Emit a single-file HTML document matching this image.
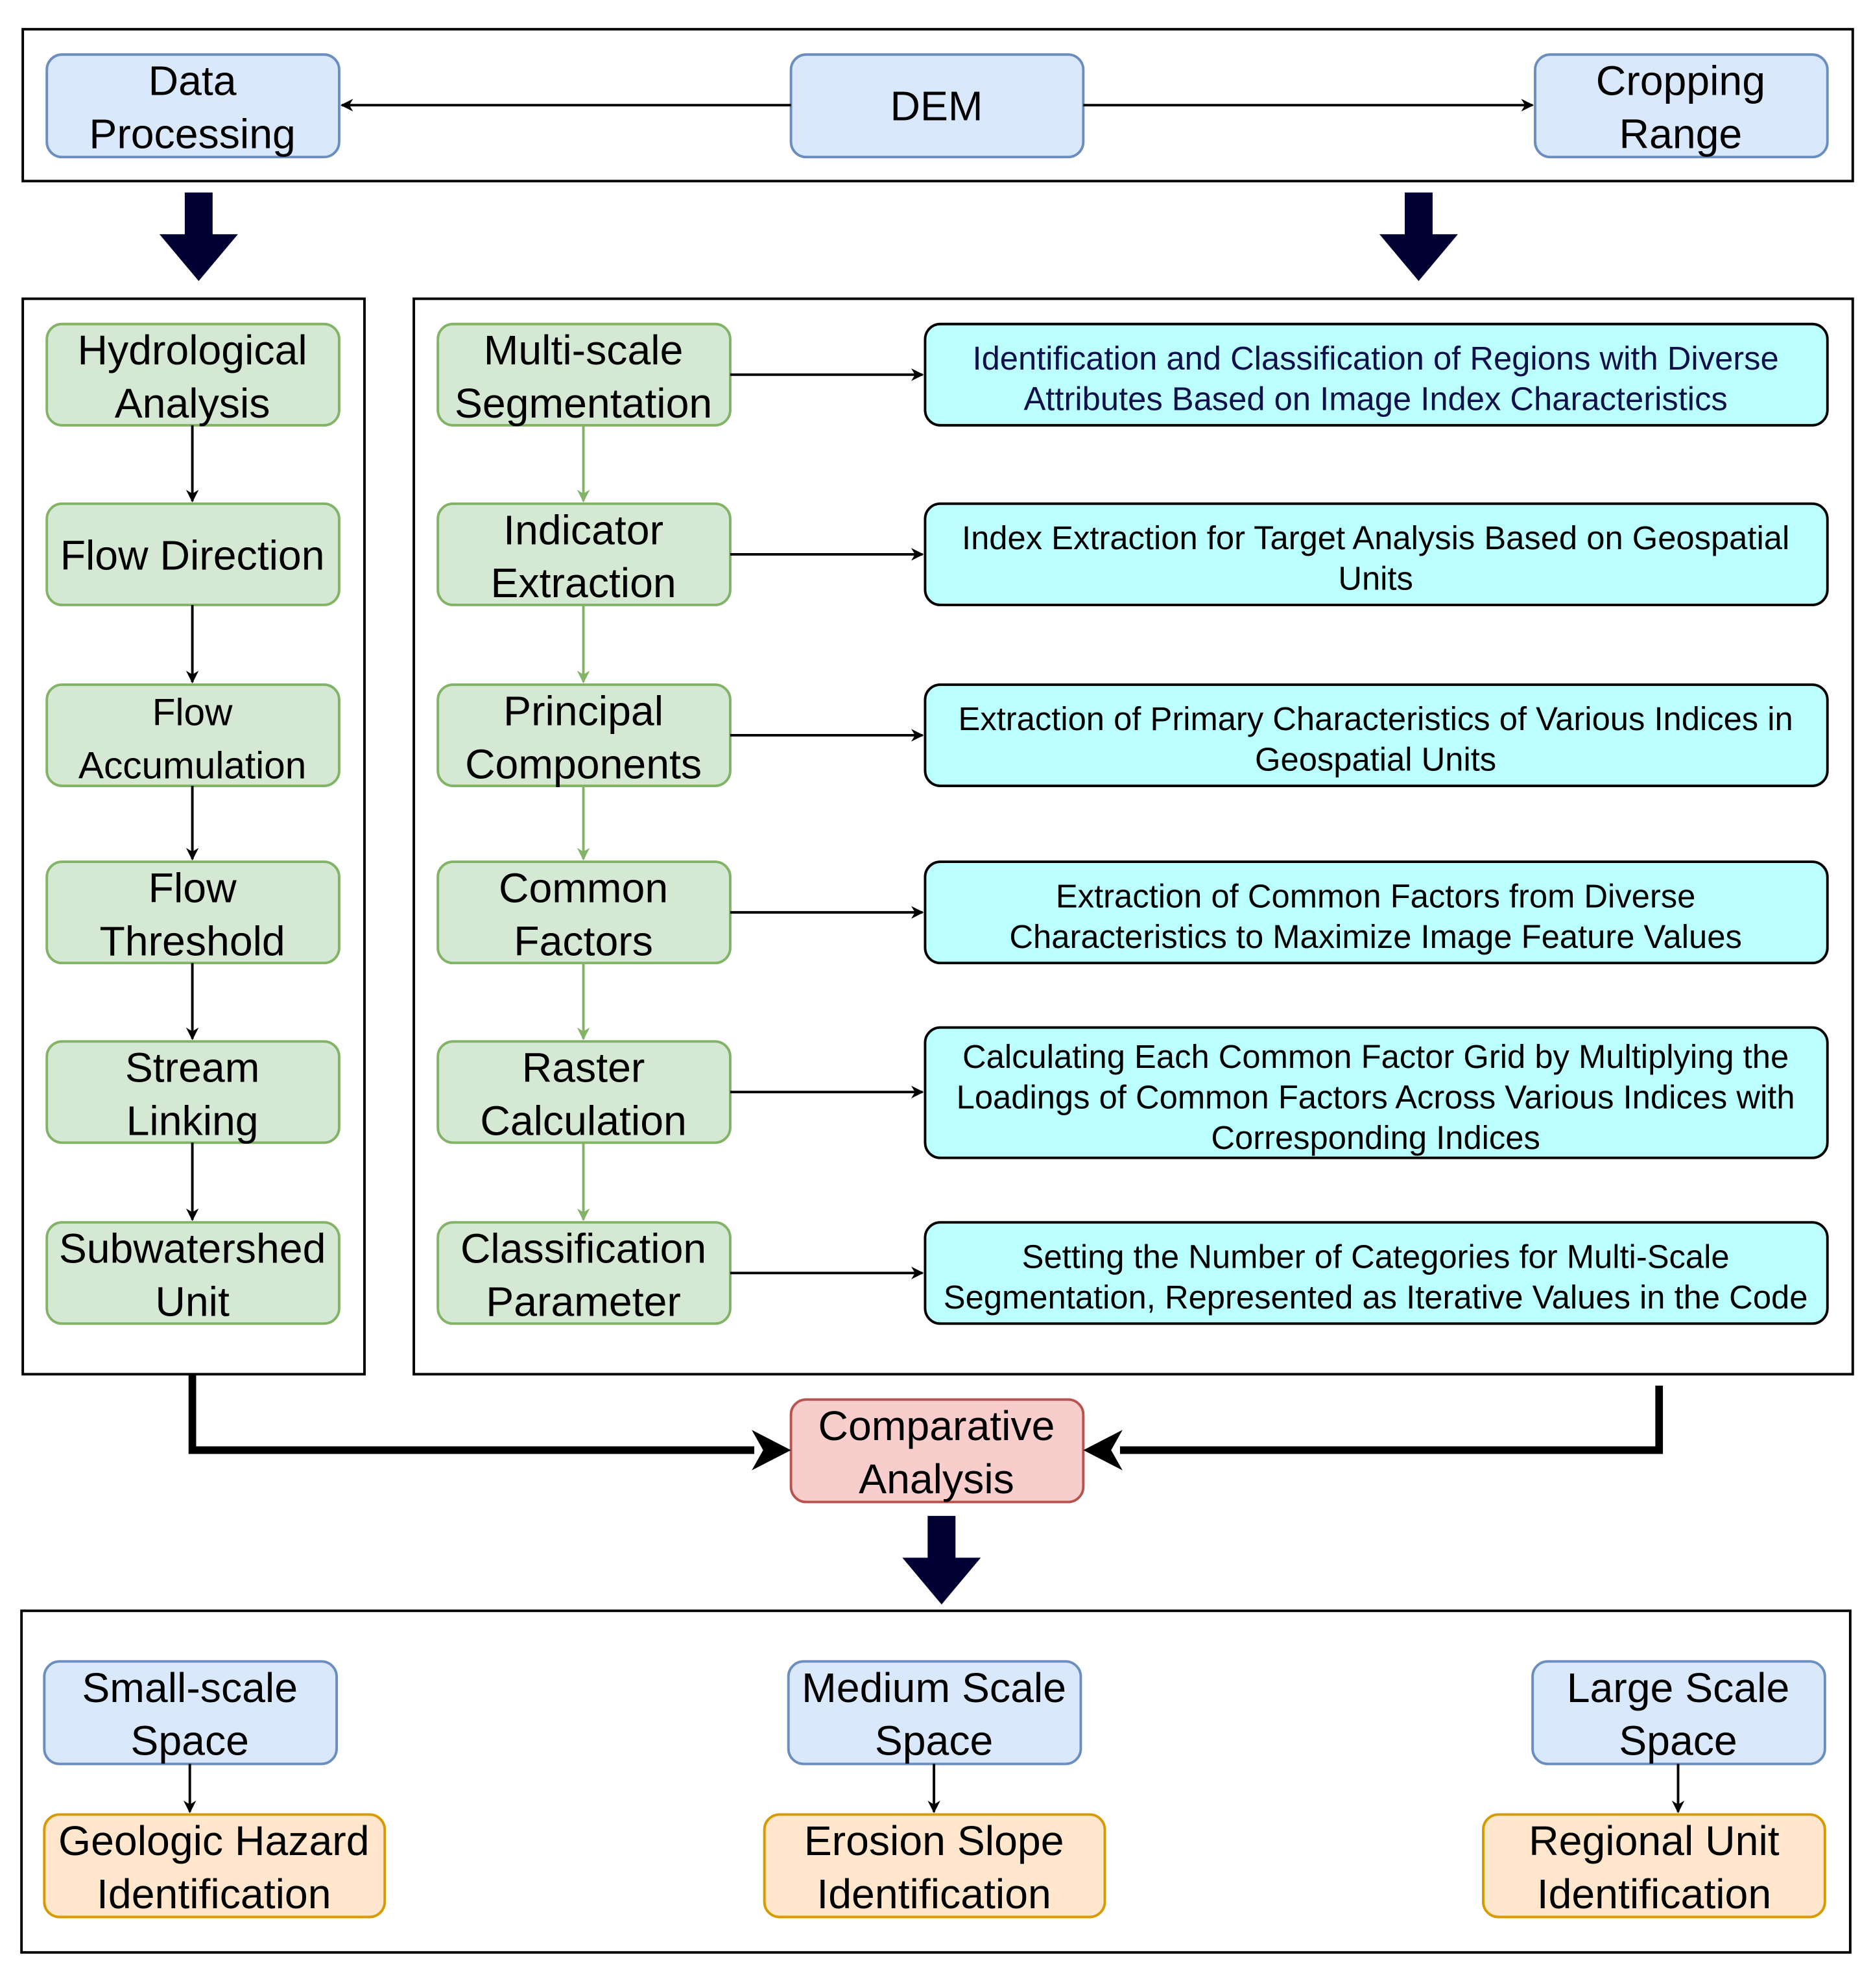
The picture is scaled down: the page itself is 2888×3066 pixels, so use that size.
<!DOCTYPE html>
<html><head><meta charset="utf-8">
<style>
html,body{margin:0;padding:0;background:#fff;}
svg{display:block;}
text{font-family:"Liberation Sans",Arial,sans-serif;text-anchor:middle;}
.g{font-size:33px;fill:#000;}
.c{font-size:26px;fill:#000;}
</style></head>
<body>
<svg width="2888" height="3066" viewBox="0 0 1480 1571" xmlns="http://www.w3.org/2000/svg">
<defs>
<marker id="a" markerWidth="10" markerHeight="10" refX="9" refY="5" orient="auto" markerUnits="userSpaceOnUse" viewBox="0 0 10 10">
<path d="M0,0 L10,5 L0,10 L3,5 z" fill="#000"/></marker>
<marker id="ag" markerWidth="10" markerHeight="10" refX="9" refY="5" orient="auto" markerUnits="userSpaceOnUse" viewBox="0 0 10 10">
<path d="M0,0 L10,5 L0,10 L3,5 z" fill="#82b366"/></marker>
</defs>
<rect width="1480" height="1571" fill="#fff"/>
<g fill="none" stroke="#000" stroke-width="2">
<rect x="18" y="23" width="1446" height="120"/>
<rect x="18" y="236" width="270" height="850"/>
<rect x="327" y="236" width="1137" height="850"/>
<rect x="17" y="1273" width="1445" height="270"/>
</g>
<g fill="#dae8fc" stroke="#6c8ebf" stroke-width="2">
<rect x="37" y="43" width="231" height="81" rx="12"/>
<rect x="625" y="43" width="231" height="81" rx="12"/>
<rect x="1213" y="43" width="231" height="81" rx="12"/>
</g>
<text class="g" x="152" y="75">Data</text><text class="g" x="152" y="117">Processing</text>
<text class="g" x="740" y="95">DEM</text>
<text class="g" x="1328" y="75">Cropping</text><text class="g" x="1328" y="117">Range</text>
<g stroke="#000" stroke-width="2" fill="none">
<line x1="625" y1="83" x2="270" y2="83" marker-end="url(#a)"/>
<line x1="856" y1="83" x2="1211" y2="83" marker-end="url(#a)"/>
</g>
<g fill="#000033">
<path d="M146,152 H168 V185 H188 L157,222 L126,185 H146 Z"/>
<path d="M1110,152 H1132 V185 H1152 L1121,222 L1090,185 H1110 Z"/>
<path d="M733,1198 H755 V1231 H775 L744,1268 L713,1231 H733 Z"/>
</g>
<g fill="#d5e8d4" stroke="#82b366" stroke-width="2">
<rect x="37" y="256" width="231" height="80" rx="12"/>
<rect x="37" y="398" width="231" height="80" rx="12"/>
<rect x="37" y="541" width="231" height="80" rx="12"/>
<rect x="37" y="681" width="231" height="80" rx="12"/>
<rect x="37" y="823" width="231" height="80" rx="12"/>
<rect x="37" y="966" width="231" height="80" rx="12"/>
<rect x="346" y="256" width="231" height="80" rx="12"/>
<rect x="346" y="398" width="231" height="80" rx="12"/>
<rect x="346" y="541" width="231" height="80" rx="12"/>
<rect x="346" y="681" width="231" height="80" rx="12"/>
<rect x="346" y="823" width="231" height="80" rx="12"/>
<rect x="346" y="966" width="231" height="80" rx="12"/>
</g>
<text class="g" x="152" y="288">Hydrological</text><text class="g" x="152" y="330">Analysis</text>
<text class="g" x="152" y="450">Flow Direction</text>
<text class="g" x="152" y="573" style="font-size:30px">Flow</text><text class="g" x="152" y="615" style="font-size:30px">Accumulation</text>
<text class="g" x="152" y="713">Flow</text><text class="g" x="152" y="755">Threshold</text>
<text class="g" x="152" y="855">Stream</text><text class="g" x="152" y="897">Linking</text>
<text class="g" x="152" y="998">Subwatershed</text><text class="g" x="152" y="1040">Unit</text>
<text class="g" x="461" y="288">Multi-scale</text><text class="g" x="461" y="330">Segmentation</text>
<text class="g" x="461" y="430">Indicator</text><text class="g" x="461" y="472">Extraction</text>
<text class="g" x="461" y="573">Principal</text><text class="g" x="461" y="615">Components</text>
<text class="g" x="461" y="713">Common</text><text class="g" x="461" y="755">Factors</text>
<text class="g" x="461" y="855">Raster</text><text class="g" x="461" y="897">Calculation</text>
<text class="g" x="461" y="998">Classification</text><text class="g" x="461" y="1040">Parameter</text>
<g stroke="#000" stroke-width="2">
<line x1="152" y1="336" x2="152" y2="396" marker-end="url(#a)"/>
<line x1="152" y1="478" x2="152" y2="539" marker-end="url(#a)"/>
<line x1="152" y1="621" x2="152" y2="679" marker-end="url(#a)"/>
<line x1="152" y1="761" x2="152" y2="821" marker-end="url(#a)"/>
<line x1="152" y1="903" x2="152" y2="964" marker-end="url(#a)"/>
</g>
<g stroke="#82b366" stroke-width="2">
<line x1="461" y1="336" x2="461" y2="396" marker-end="url(#ag)"/>
<line x1="461" y1="478" x2="461" y2="539" marker-end="url(#ag)"/>
<line x1="461" y1="621" x2="461" y2="679" marker-end="url(#ag)"/>
<line x1="461" y1="761" x2="461" y2="821" marker-end="url(#ag)"/>
<line x1="461" y1="903" x2="461" y2="964" marker-end="url(#ag)"/>
</g>
<g fill="#bbffff" stroke="#000" stroke-width="2">
<rect x="731" y="256" width="713" height="80" rx="12"/>
<rect x="731" y="398" width="713" height="80" rx="12"/>
<rect x="731" y="541" width="713" height="80" rx="12"/>
<rect x="731" y="681" width="713" height="80" rx="12"/>
<rect x="731" y="812" width="713" height="103" rx="12"/>
<rect x="731" y="966" width="713" height="80" rx="12"/>
</g>
<g stroke="#000" stroke-width="2">
<line x1="577" y1="296" x2="729" y2="296" marker-end="url(#a)"/>
<line x1="577" y1="438" x2="729" y2="438" marker-end="url(#a)"/>
<line x1="577" y1="581" x2="729" y2="581" marker-end="url(#a)"/>
<line x1="577" y1="721" x2="729" y2="721" marker-end="url(#a)"/>
<line x1="577" y1="863" x2="729" y2="863" marker-end="url(#a)"/>
<line x1="577" y1="1006" x2="729" y2="1006" marker-end="url(#a)"/>
</g>
<text class="c" x="1087" y="292" style="fill:#10104a">Identification and Classification of Regions with Diverse</text>
<text class="c" x="1087" y="324" style="fill:#10104a">Attributes Based on Image Index Characteristics</text>
<text class="c" x="1087" y="434">Index Extraction for Target Analysis Based on Geospatial</text>
<text class="c" x="1087" y="466">Units</text>
<text class="c" x="1087" y="577">Extraction of Primary Characteristics of Various Indices in</text>
<text class="c" x="1087" y="609">Geospatial Units</text>
<text class="c" x="1087" y="717">Extraction of Common Factors from Diverse</text>
<text class="c" x="1087" y="749">Characteristics to Maximize Image Feature Values</text>
<text class="c" x="1087" y="844">Calculating Each Common Factor Grid by Multiplying the</text>
<text class="c" x="1087" y="876">Loadings of Common Factors Across Various Indices with</text>
<text class="c" x="1087" y="908">Corresponding Indices</text>
<text class="c" x="1087" y="1002">Setting the Number of Categories for Multi-Scale</text>
<text class="c" x="1087" y="1034">Segmentation, Represented as Iterative Values in the Code</text>
<rect x="625" y="1106" width="231" height="81" rx="12" fill="#f8cecc" stroke="#b85450" stroke-width="2"/>
<text class="g" x="740" y="1138">Comparative</text><text class="g" x="740" y="1180">Analysis</text>
<g stroke="#000" stroke-width="6" fill="none">
<polyline points="152,1086 152,1146 596,1146"/>
<polyline points="1311,1095 1311,1146 885,1146"/>
</g>
<path d="M625,1146 L594,1130 L603,1146 L594,1162 Z" fill="#000"/>
<path d="M856,1146 L887,1130 L878,1146 L887,1162 Z" fill="#000"/>
<g fill="#dae8fc" stroke="#6c8ebf" stroke-width="2">
<rect x="35" y="1313" width="231" height="81" rx="12"/>
<rect x="623" y="1313" width="231" height="81" rx="12"/>
<rect x="1211" y="1313" width="231" height="81" rx="12"/>
</g>
<g fill="#ffe6cc" stroke="#d79b00" stroke-width="2">
<rect x="35" y="1434" width="269" height="81" rx="12"/>
<rect x="604" y="1434" width="269" height="81" rx="12"/>
<rect x="1172" y="1434" width="270" height="81" rx="12"/>
</g>
<g stroke="#000" stroke-width="2">
<line x1="150" y1="1394" x2="150" y2="1432" marker-end="url(#a)"/>
<line x1="738" y1="1394" x2="738" y2="1432" marker-end="url(#a)"/>
<line x1="1326" y1="1394" x2="1326" y2="1432" marker-end="url(#a)"/>
</g>
<text class="g" x="150" y="1345">Small-scale</text><text class="g" x="150" y="1387">Space</text>
<text class="g" x="738" y="1345">Medium Scale</text><text class="g" x="738" y="1387">Space</text>
<text class="g" x="1326" y="1345">Large Scale</text><text class="g" x="1326" y="1387">Space</text>
<text class="g" x="169" y="1466">Geologic Hazard</text><text class="g" x="169" y="1508">Identification</text>
<text class="g" x="738" y="1466">Erosion Slope</text><text class="g" x="738" y="1508">Identification</text>
<text class="g" x="1307" y="1466">Regional Unit</text><text class="g" x="1307" y="1508">Identification</text>
</svg>
</body></html>
